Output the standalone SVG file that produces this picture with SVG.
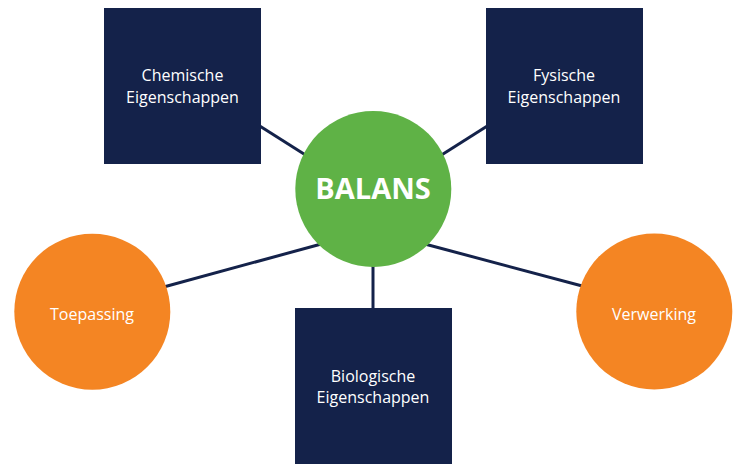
<svg xmlns="http://www.w3.org/2000/svg" width="738" height="466" viewBox="0 0 738 466">
<style>
.sq{fill:#14224a}
.or{fill:#f48523}
.gr{fill:#5fb246}
.conn line{stroke:#14224a;stroke-width:3}
text{font-family:"Open Sans","Noto Sans",sans-serif;fill:#ffffff;text-anchor:middle}
.lbl{font-size:16px}
.main{font-size:29px;font-weight:bold}
</style>
<rect width="738" height="466" fill="#ffffff"/>
<g id="connectors" class="conn">
<line x1="255" y1="123" x2="315" y2="161"/>
<line x1="492" y1="123" x2="432" y2="161"/>
<line x1="160" y1="288" x2="325" y2="243"/>
<line x1="586" y1="287" x2="421" y2="243"/>
<line x1="373" y1="260" x2="373" y2="312"/>
</g>
<g id="chemische">
<rect class="sq" x="104" y="8" width="157" height="156"/>
<text class="lbl" x="182.5" y="81">Chemische</text>
<text class="lbl" x="182.5" y="103">Eigenschappen</text>
</g>
<g id="fysische">
<rect class="sq" x="486" y="8" width="157" height="156"/>
<text class="lbl" x="564" y="81">Fysische</text>
<text class="lbl" x="564" y="103">Eigenschappen</text>
</g>
<g id="biologische">
<rect class="sq" x="295" y="308" width="157" height="156"/>
<text class="lbl" x="373" y="382">Biologische</text>
<text class="lbl" x="373" y="403">Eigenschappen</text>
</g>
<g id="balans">
<circle class="gr" cx="373.3" cy="189" r="78"/>
<text class="main" x="373" y="199">BALANS</text>
</g>
<g id="toepassing">
<circle class="or" cx="92.3" cy="311.7" r="78"/>
<text class="lbl" x="92" y="320">Toepassing</text>
</g>
<g id="verwerking">
<circle class="or" cx="654.3" cy="311.5" r="78"/>
<text class="lbl" x="654" y="320">Verwerking</text>
</g>
</svg>
